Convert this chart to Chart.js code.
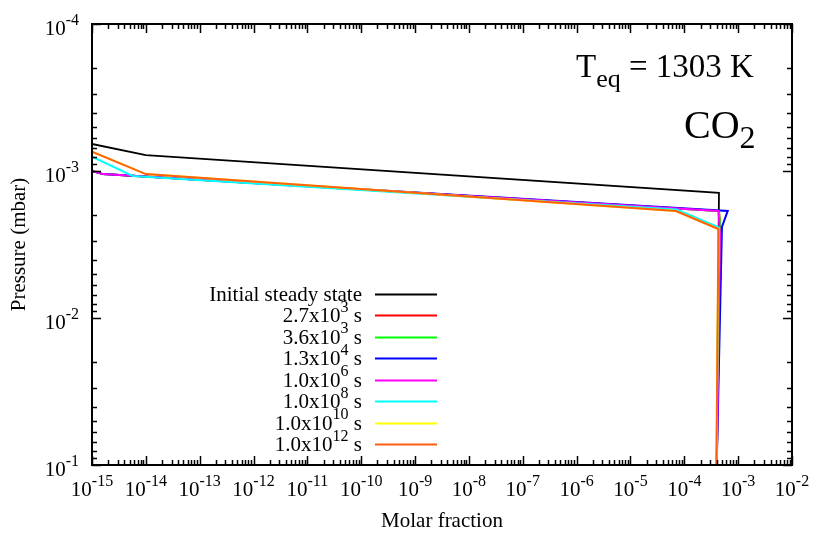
<!DOCTYPE html>
<html lang="en">
<head>
<meta charset="UTF-8">
<title>CO2 molar fraction</title>
<script src="https://cdn.jsdelivr.net/npm/chart.js"></script>
<style>
  html, body {
    margin: 0;
    padding: 0;
    background: #fff;
    overflow: hidden;
  }
  canvas {
    display: block;
  }
</style>
</head>
<body>
  <canvas id="chart" width="830" height="534"></canvas>
  <script>
    // legend labels: base text, superscript, suffix
    const labelBase = ['Initial steady state', '2.7x10', '3.6x10', '1.3x10', '1.0x10', '1.0x10', '1.0x10', '1.0x10']
    const labelExp = ['', '3', '3', '4', '6', '8', '10', '12']
    const labelUnit = ['', ' s', ' s', ' s', ' s', ' s', ' s', ' s']
    const colors = ['#000000', '#ff0000', '#00ff00', '#0000ff', '#ff00ff', '#00ffff', '#ffff00', '#ff6010']

    // molar fraction (x) and pressure in mbar (y) for each profile
    const fracInitial = [1e-15, 1e-14, 4.4e-4, 4.0e-4]
    const presInitial = [6.55e-4, 7.8e-4, 1.41e-3, 1e-1]
    const frac27e3 = [1e-15, 1.6e-15, 4.4e-4, 4.7e-4, 4.0e-4]
    const pres27e3 = [1.0e-3, 1.05e-3, 1.87e-3, 2.5e-3, 1e-1]
    const frac36e3 = [1e-15, 1.6e-15, 4.4e-4, 4.7e-4, 4.0e-4]
    const pres36e3 = [1.0e-3, 1.05e-3, 1.87e-3, 2.5e-3, 1e-1]
    const frac13e4 = [1e-15, 1.6e-15, 6.4e-4, 5.0e-4, 4.0e-4]
    const pres13e4 = [1.0e-3, 1.05e-3, 1.87e-3, 2.4e-3, 1e-1]
    const frac10e6 = [1e-15, 1.6e-15, 4.3e-4, 4.6e-4, 4.0e-4]
    const pres10e6 = [1.0e-3, 1.05e-3, 1.87e-3, 2.7e-3, 1e-1]
    const frac10e8 = [1e-15, 5.7e-15, 7.2e-5, 4.4e-4, 3.95e-4]
    const pres10e8 = [8.0e-4, 1.08e-3, 1.83e-3, 2.42e-3, 1e-1]
    const frac10e10 = [1e-15, 1e-14, 7.0e-5, 4.3e-4, 3.95e-4]
    const pres10e10 = [7.4e-4, 1.05e-3, 1.87e-3, 2.48e-3, 1e-1]
    const frac10e12 = [1e-15, 1e-14, 7.0e-5, 4.3e-4, 3.95e-4]
    const pres10e12 = [7.4e-4, 1.05e-3, 1.87e-3, 2.48e-3, 1e-1]

    const fracs = [fracInitial, frac27e3, frac36e3, frac13e4, frac10e6, frac10e8, frac10e10, frac10e12]
    const press = [presInitial, pres27e3, pres36e3, pres13e4, pres10e6, pres10e8, pres10e10, pres10e12]

    const xDecades = [-15, -14, -13, -12, -11, -10, -9, -8, -7, -6, -5, -4, -3, -2]
    const yDecades = [-4, -3, -2, -1]

    const font = 'Liberation Serif, Times New Roman, serif'

    // draw "base^sup suffix"; align: 'left' | 'right' | 'center'
    function supText(ctx, base, sup, suffix, x, y, size, supSize, align) {
      ctx.font = size + 'px ' + font
      const wb = ctx.measureText(base).width
      const ws = ctx.measureText(suffix).width
      ctx.font = supSize + 'px ' + font
      const wsup = ctx.measureText(sup).width
      const total = wb + wsup + ws
      let x0 = x
      if (align === 'right') x0 = x - total
      if (align === 'center') x0 = x - total / 2
      ctx.textAlign = 'left'
      ctx.textBaseline = 'alphabetic'
      ctx.font = size + 'px ' + font
      ctx.fillText(base, x0, y)
      ctx.font = supSize + 'px ' + font
      ctx.fillText(sup, x0 + wb, y - size * 0.5)
      ctx.font = size + 'px ' + font
      ctx.fillText(suffix, x0 + wb + wsup, y)
      return total
    }

    const framePlugin = {
      id: 'frame',
      afterDatasetsDraw(chart) {
        const ctx = chart.ctx
        const { left, right, top, bottom } = chart.chartArea
        const xs = chart.scales.x, ys = chart.scales.y
        ctx.save()
        ctx.fillStyle = '#000'
        ctx.strokeStyle = '#000'
        ctx.lineWidth = 1.5

        // ticks (mirrored, inward)
        ctx.beginPath()
        xDecades.forEach((d, i) => {
          for (let m = 1; m <= 9; m++) {
            if (i === xDecades.length - 1 && m > 1) break
            const px = Math.round(xs.getPixelForValue(m * Math.pow(10, d))) + 0.5
            const len = m === 1 ? 9 : 5
            ctx.moveTo(px, bottom); ctx.lineTo(px, bottom - len)
            ctx.moveTo(px, top); ctx.lineTo(px, top + len)
          }
        })
        yDecades.forEach((d, i) => {
          for (let m = 1; m <= 9; m++) {
            if (i === yDecades.length - 1 && m > 1) break
            const py = Math.round(ys.getPixelForValue(m * Math.pow(10, d))) + 0.5
            const len = m === 1 ? 9 : 5
            ctx.moveTo(left, py); ctx.lineTo(left + len, py)
            ctx.moveTo(right, py); ctx.lineTo(right - len, py)
          }
        })
        ctx.stroke()

        // border
        ctx.lineWidth = 2
        ctx.strokeRect(left, top, right - left, bottom - top)

        // tick labels
        xDecades.forEach(d => {
          const px = xs.getPixelForValue(Math.pow(10, d))
          supText(ctx, '10', String(d), '', px, bottom + 31, 21, 16, 'center')
        })
        yDecades.forEach(d => {
          const py = ys.getPixelForValue(Math.pow(10, d))
          supText(ctx, '10', String(d), '', 79, py + 11, 21, 16, 'right')
        })

        // axis titles
        ctx.font = '21px ' + font
        ctx.textAlign = 'center'
        ctx.textBaseline = 'alphabetic'
        ctx.fillText('Molar fraction', (left + right) / 2, 527)
        ctx.save()
        ctx.translate(25, (top + bottom) / 2)
        ctx.rotate(-Math.PI / 2)
        ctx.fillText('Pressure (mbar)', 0, 0)
        ctx.restore()

        // annotations
        ctx.textAlign = 'left'
        ctx.font = '33px ' + font
        let x = 576
        ctx.fillText('T', x, 77)
        x += ctx.measureText('T').width
        ctx.font = '26px ' + font
        ctx.fillText('eq', x, 87)
        x += ctx.measureText('eq').width
        ctx.font = '33px ' + font
        ctx.fillText(' = 1303 K', x, 77)

        ctx.font = '40px ' + font
        ctx.fillText('CO', 684, 138)
        const wco = ctx.measureText('CO').width
        ctx.font = '32px ' + font
        ctx.fillText('2', 684 + wco, 148)

        // legend
        labelBase.forEach((b, i) => {
          const cy = 294 + i * 21.45
          ctx.fillStyle = '#000'
          supText(ctx, b, labelExp[i], labelUnit[i], 362, cy + 7, 21, 16, 'right')
          ctx.strokeStyle = colors[i]
          ctx.lineWidth = 2
          ctx.beginPath()
          ctx.moveTo(375, Math.round(cy) + 0.5)
          ctx.lineTo(437, Math.round(cy) + 0.5)
          ctx.stroke()
        })
        ctx.restore()
      }
    }

    // later profiles are drawn on top (higher order is drawn first)
    const datasets = labelBase.map((b, i) => ({
      label: b + labelExp[i] + labelUnit[i],
      data: fracs[i].map((f, j) => ({ x: f, y: press[i][j] })),
      borderColor: colors[i],
      backgroundColor: colors[i],
      borderWidth: i === 0 ? 1.8 : 2,
      showLine: true,
      pointRadius: 0,
      fill: false,
      tension: 0,
      order: labelBase.length - i,
    }))

    new Chart(document.getElementById('chart').getContext('2d'), {
      type: 'scatter',
      data: { datasets },
      options: {
        responsive: false,
        animation: false,
        devicePixelRatio: 1,
        layout: { padding: { left: 92, right: 38, top: 24, bottom: 69 } },
        scales: {
          x: { type: 'logarithmic', min: 1e-15, max: 1e-2, display: false },
          y: { type: 'logarithmic', min: 1e-4, max: 1e-1, reverse: true, display: false },
        },
        plugins: {
          legend: { display: false },
          tooltip: { enabled: false },
        },
      },
      plugins: [framePlugin],
    })
  </script>
</body>
</html>
